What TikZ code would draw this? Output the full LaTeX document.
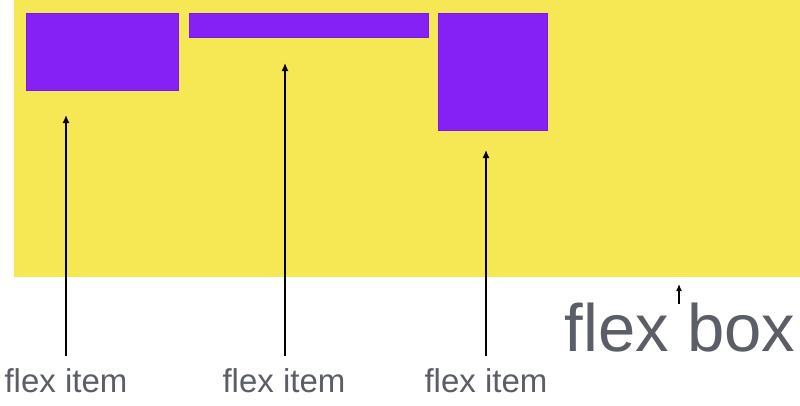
\documentclass[tikz,border=0pt]{standalone}
\usepackage{fontspec}
\setmainfont{Liberation Sans}
\usetikzlibrary{arrows.meta}
\definecolor{flexyellow}{HTML}{F5E854}
\definecolor{itempurple}{HTML}{8521F5}
\definecolor{itemedge}{HTML}{7A14F0}
\definecolor{labelgray}{HTML}{5B5E66}
\tikzset{
  itembox/.style={fill=itempurple, draw=itemedge, line width=0.8pt},
  pointer/.style={draw=black, line width=1.4pt, -{Latex[length=8pt,width=7pt]}},
  smallpointer/.style={draw=black, line width=1.2pt, -{Latex[length=7pt,width=6pt]}},
  itemlabel/.style={text=labelgray, font=\fontsize{33}{39}\selectfont, anchor=base, inner sep=0pt},
  boxlabel/.style={text=labelgray, font=\fontsize{67}{79}\selectfont, anchor=base, inner sep=0pt}
}
\begin{document}
\begin{tikzpicture}[x=1pt,y=-1pt]
\useasboundingbox (0,0) rectangle (800,405);
\fill[white] (0,0) rectangle (800,405);
% flex container
\fill[flexyellow] (14,0) rectangle (800,277);
% flex items
\draw[itembox] (26.5,13.5) rectangle (178.5,90.5);
\draw[itembox] (189.5,13.5) rectangle (428.5,37.5);
\draw[itembox] (438.5,13.5) rectangle (547.5,130.5);
% labels
\node[itemlabel] (l1) at (66,392) {flex item};
\node[itemlabel] (l2) at (284,392) {flex item};
\node[itemlabel] (l3) at (486,392) {flex item};
\node[boxlabel] (lb) at (680,351) {flex box};
% arrow ends
\coordinate (s1) at (66,356);
\coordinate (s2) at (285,356);
\coordinate (s3) at (486,356);
\coordinate (sb) at (679,304);
\coordinate (t1) at (66,115);
\coordinate (t2) at (285,63);
\coordinate (t3) at (486,150);
\coordinate (tb) at (679,284);
\draw[pointer] (s1) -- (t1);
\draw[pointer] (s2) -- (t2);
\draw[pointer] (s3) -- (t3);
\draw[smallpointer] (sb) -- (tb);
\end{tikzpicture}
\end{document}
